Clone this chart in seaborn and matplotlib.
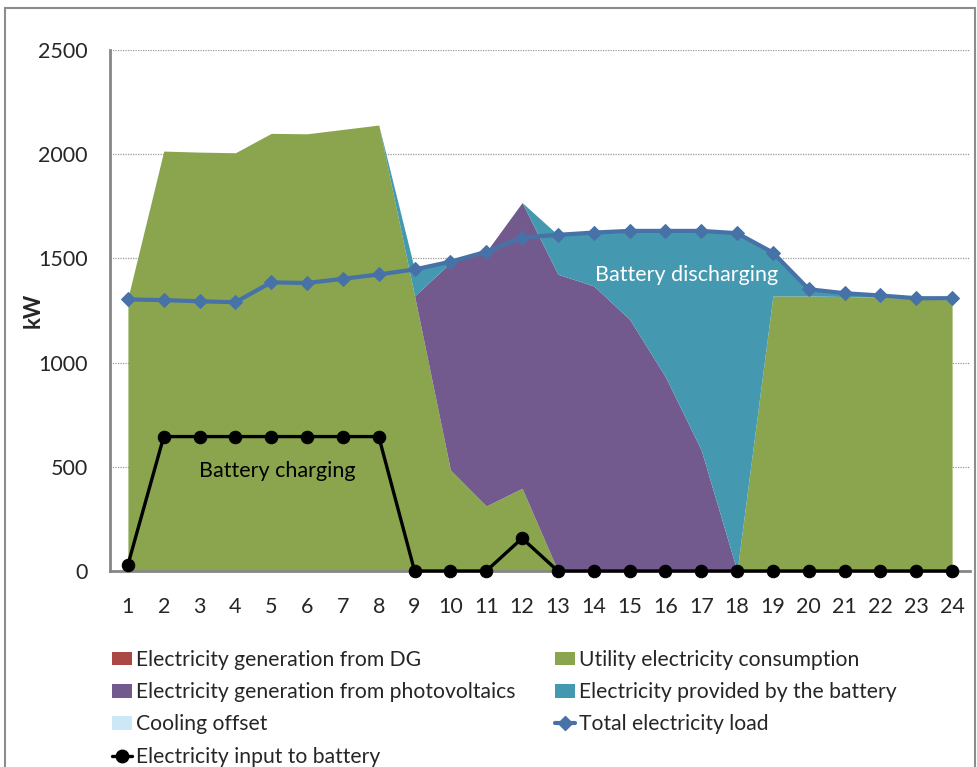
import matplotlib
matplotlib.use("Agg")
import matplotlib.pyplot as plt
from matplotlib.patches import Patch, Rectangle
from matplotlib.lines import Line2D
import seaborn as sns
import pandas as pd

hours = [1, 2, 3, 4, 5, 6, 7, 8, 9, 10, 11, 12, 13, 14, 15, 16, 17, 18, 19, 20, 21, 22, 23, 24]
dg = [0, 0, 0, 0, 0, 0, 0, 0, 0, 0, 0, 0, 0, 0, 0, 0, 0, 0, 0, 0, 0, 0, 0, 0]
utility = [1310, 2015, 2010, 2007, 2100, 2098, 2119, 2140, 1320, 485, 312, 397,
           0, 0, 0, 0, 0, 0, 1320, 1320, 1317, 1314, 1306, 1301]
pv = [0, 0, 0, 0, 0, 0, 0, 0, 0, 995, 1220, 1371,
      1424, 1368, 1208, 932, 580, 0, 0, 0, 0, 0, 0, 0]
battery = [0, 0, 0, 0, 0, 0, 0, 0, 127, 0, 0, 0,
           189, 256, 424, 700, 1052, 1621, 208, 32, 16, 8, 3, 8]
cooling = [0, 0, 0, 0, 0, 0, 0, 0, 0, 0, 0, 0, 0, 0, 0, 0, 0, 0, 0, 0, 0, 0, 0, 0]
total_load = [1303, 1300, 1294, 1290, 1385, 1382, 1402, 1423, 1447, 1484, 1532, 1600,
              1613, 1624, 1632, 1632, 1632, 1621, 1528, 1352, 1333, 1322, 1309, 1309]
battery_input = [30, 645, 645, 645, 645, 645, 645, 645, 0, 0, 0, 157,
                 0, 0, 0, 0, 0, 0, 0, 0, 0, 0, 0, 0]

labels = ["Electricity generation from DG", "Utility electricity consumption",
          "Electricity generation from photovoltaics", "Electricity provided by the battery",
          "Cooling offset", "Total electricity load", "Electricity input to battery"]
y_ticks = [0, 500, 1000, 1500, 2000, 2500]

c_dg = "#AA4846"
c_util = "#8AA54E"
c_pv = "#725A8E"
c_bat = "#4498B0"
c_cool = "#CCE8F8"
c_total = "#4672A8"
c_input = "#000000"

sns.set_style("white")
plt.rcParams["font.family"] = ["Lato", "DejaVu Sans"]

df = pd.DataFrame({"hour": hours, "total": total_load, "input": battery_input})

fig = plt.figure(figsize=(9.78, 7.67), dpi=100)
ax = fig.add_axes([110 / 978, 1 - 571 / 767, 860 / 978, 521 / 767])

ax.stackplot(hours, dg, utility, pv, battery, cooling,
             colors=[c_dg, c_util, c_pv, c_bat, c_cool], linewidth=0, zorder=2)

sns.lineplot(data=df, x="hour", y="total", ax=ax, color=c_total, linewidth=3,
             marker="D", markersize=7, markeredgecolor=c_total, clip_on=False, zorder=4)
sns.lineplot(data=df, x="hour", y="input", ax=ax, color=c_input, linewidth=2.4,
             marker="o", markersize=9, markeredgecolor=c_input, clip_on=False, zorder=5)

ax.set_xlim(0.5, 24.5)
ax.set_ylim(0, 2500)
ax.set_xticks(hours)
ax.set_xticklabels([str(h) for h in hours])
ax.set_yticks(y_ticks)
ax.set_yticklabels([str(v) for v in y_ticks])
ax.tick_params(axis="x", length=0, pad=19, labelsize=15.5)
ax.tick_params(axis="y", length=0, pad=16, labelsize=15.5)
ax.yaxis.grid(True, linestyle=(0, (1, 1)), color="#9A9A9A", linewidth=0.9, zorder=0)
ax.xaxis.grid(False)
ax.set_axisbelow(True)
for s in ["top", "right"]:
    ax.spines[s].set_visible(False)
for s in ["left", "bottom"]:
    ax.spines[s].set_color("#868686")
    ax.spines[s].set_linewidth(2)
    ax.spines[s].set_zorder(3)
ax.set_xlabel("")
ax.set_ylabel("kW", fontsize=16, fontweight="bold", labelpad=-4)

ax.text(5.16, 480, "Battery charging", ha="center", va="center", fontsize=15.5, color="black", zorder=6)
ax.text(16.58, 1420, "Battery discharging", ha="center", va="center", fontsize=15.5, color="white", zorder=6)

handles = [
    Patch(facecolor=c_dg, edgecolor="none"),
    Patch(facecolor=c_pv, edgecolor="none"),
    Patch(facecolor=c_cool, edgecolor="none"),
    Line2D([], [], color=c_input, linewidth=2.4, marker="o", markersize=9),
    Patch(facecolor=c_util, edgecolor="none"),
    Patch(facecolor=c_bat, edgecolor="none"),
    Line2D([], [], color=c_total, linewidth=3, marker="D", markersize=7),
]
hl = [labels[0], labels[2], labels[4], labels[6], labels[1], labels[3], labels[5]]
leg = fig.legend(handles, hl, ncol=2, loc="upper left", bbox_to_anchor=(112 / 978, 1 - 650 / 767),
                 frameon=False, fontsize=15.2, handlelength=0.95, handleheight=0.6,
                 handletextpad=0.2, columnspacing=1.85, labelspacing=0.58, borderaxespad=0, borderpad=0)

fig.patches.append(Rectangle((5 / 978, -0.1), 970 / 978, 1.1 - 8 / 767, transform=fig.transFigure,
                             fill=False, edgecolor="#8C8C8C", linewidth=1.5))

fig.savefig("out.png", dpi=100)
